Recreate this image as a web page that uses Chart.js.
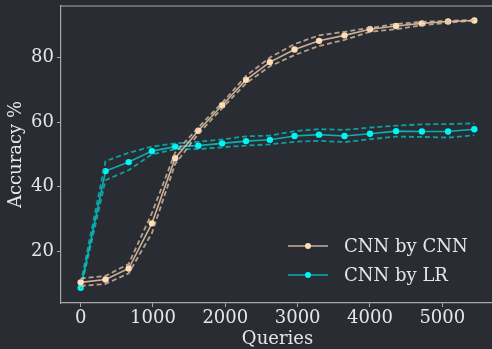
<!DOCTYPE html>
<html>
<head>
<meta charset="utf-8">
<script src="https://cdn.jsdelivr.net/npm/chart.js@4"></script>
<style>
  html, body { margin: 0; padding: 0; background: #2a2c33; overflow: hidden; }
  #wrap { width: 498px; height: 349px; }
</style>
</head>
<body>
<div id="wrap"><canvas id="chart" width="498" height="349"></canvas></div>
<script>
// data
const queries = [0, 344, 664, 985, 1306, 1626, 1956, 2286, 2616, 2957, 3296, 3648, 4000, 4361, 4718, 5080, 5443];

const cnnMean  = [10.3, 11.2, 14.6, 28.6, 48.8, 57.3, 65.2, 73.1, 78.6, 82.5, 85.2, 86.9, 88.8, 89.8, 90.6, 91.2, 91.5];
const cnnUpper = [11.5, 12.3, 16.0, 31.8, 50.5, 58.3, 66.0, 74.3, 80.0, 84.2, 86.9, 88.0, 89.2, 90.4, 91.1, 91.4, 91.7];
const cnnLower = [9.2, 9.8, 13.1, 25.6, 47.0, 56.3, 64.3, 72.0, 77.3, 80.8, 83.6, 85.5, 88.0, 88.8, 90.0, 90.8, 91.5];

const lrMean  = [8.6, 44.8, 47.6, 51.0, 52.4, 52.7, 53.4, 54.1, 54.5, 55.7, 56.1, 55.7, 56.4, 57.2, 57.1, 57.1, 57.8];
const lrUpper = [10.0, 47.9, 50.5, 52.4, 53.4, 53.9, 54.6, 55.6, 55.8, 57.2, 57.8, 57.6, 58.3, 58.9, 59.3, 59.4, 59.6];
const lrLower = [8.0, 42.0, 45.1, 50.0, 51.6, 51.6, 52.2, 52.7, 53.1, 53.9, 54.2, 53.8, 54.7, 55.5, 55.4, 55.2, 55.9];

const xTicks = [0, 1000, 2000, 3000, 4000, 5000];
const yTicks = [20, 40, 60, 80];
const seriesNames = ["CNN by CNN", "CNN by LR"];

const tan = "#ffdcb6";
const tanLine = "rgba(240, 210, 180, 0.8)";
const tanDash = "rgba(220, 190, 160, 0.8)";
const cyan = "#00f5f5";
const cyanLine = "rgba(0, 220, 220, 0.75)";
const cyanDash = "rgba(0, 200, 200, 0.75)";
const axisColor = "#a8a8a8";
const textColor = "#e6e6e6";
const font = "'DejaVu Serif'";

function pts(ys) {
  return queries.map((q, i) => ({ x: q, y: ys[i] }));
}

function band(ys, color) {
  return {
    data: pts(ys),
    borderColor: color,
    borderWidth: 1.8,
    borderDash: [5, 3],
    pointRadius: 0,
    fill: false
  };
}

// top spine + legend
const extras = {
  id: "extras",
  afterDraw(chart) {
    const ctx = chart.ctx;
    const a = chart.chartArea;
    ctx.save();
    ctx.strokeStyle = axisColor;
    ctx.lineWidth = 1.2;
    ctx.beginPath();
    ctx.moveTo(a.left, a.top);
    ctx.lineTo(a.right, a.top);
    ctx.stroke();

    const items = [
      { name: seriesNames[0], line: tanLine, dot: tan },
      { name: seriesNames[1], line: cyanLine, dot: cyan }
    ];
    const x0 = a.right - 206;
    let y = a.bottom - 57;
    items.forEach(it => {
      ctx.strokeStyle = it.line;
      ctx.lineWidth = 1.6;
      ctx.beginPath();
      ctx.moveTo(x0, y);
      ctx.lineTo(x0 + 40, y);
      ctx.stroke();
      ctx.fillStyle = it.dot;
      ctx.beginPath();
      ctx.arc(x0 + 20, y, 3, 0, Math.PI * 2);
      ctx.fill();
      ctx.fillStyle = textColor;
      ctx.font = "18px " + font;
      ctx.textBaseline = "middle";
      ctx.fillText(it.name, x0 + 56, y + 1);
      y += 29;
    });
    ctx.restore();
  }
};

function noPad(scale) {
  scale.paddingTop = 0;
  scale.paddingBottom = 0;
  scale.paddingLeft = 0;
  scale.paddingRight = 0;
}

const ctx = document.getElementById("chart").getContext("2d");
new Chart(ctx, {
  type: "line",
  data: {
    datasets: [
      band(cnnUpper, tanDash),
      band(cnnLower, tanDash),
      {
        label: seriesNames[0],
        data: pts(cnnMean),
        borderColor: tanLine,
        borderWidth: 1.6,
        pointRadius: 3.2,
        pointBackgroundColor: tan,
        pointBorderWidth: 0,
        fill: false
      },
      band(lrUpper, cyanDash),
      band(lrLower, cyanDash),
      {
        label: seriesNames[1],
        data: pts(lrMean),
        borderColor: cyanLine,
        borderWidth: 1.6,
        pointRadius: 3.2,
        pointBackgroundColor: cyan,
        pointBorderWidth: 0,
        fill: false
      }
    ]
  },
  options: {
    responsive: false,
    animation: false,
    devicePixelRatio: 1,
    layout: { padding: { top: 6, right: 2, left: 0, bottom: 0 } },
    plugins: {
      legend: { display: false },
      tooltip: { enabled: false }
    },
    scales: {
      x: {
        type: "linear",
        min: -272,
        max: 5715,
        afterBuildTicks(scale) { scale.ticks = xTicks.map(v => ({ value: v })); },
        afterFit(scale) { scale.height = 46; noPad(scale); },
        ticks: { color: textColor, font: { family: font, size: 18 }, padding: 1, maxRotation: 0, callback: v => String(v) },
        grid: { display: true, drawOnChartArea: false, drawTicks: true, tickLength: 4, color: axisColor },
        border: { display: true, color: axisColor, width: 1.2 },
        title: { display: true, text: "Queries", color: textColor, font: { family: font, size: 18 }, padding: { top: 0, bottom: -1 } }
      },
      y: {
        type: "linear",
        min: 3.9,
        max: 96,
        afterBuildTicks(scale) { scale.ticks = yTicks.map(v => ({ value: v })); },
        afterFit(scale) { scale.width = 61; noPad(scale); },
        ticks: { color: textColor, font: { family: font, size: 18 }, padding: 3, callback: v => String(v) },
        grid: { display: true, drawOnChartArea: false, drawTicks: true, tickLength: 4, color: axisColor },
        border: { display: true, color: axisColor, width: 1.2 },
        title: { display: true, text: "Accuracy %", color: textColor, font: { family: font, size: 18 }, padding: { top: 6, bottom: 0 } }
      }
    }
  },
  plugins: [extras]
});
</script>
</body>
</html>
